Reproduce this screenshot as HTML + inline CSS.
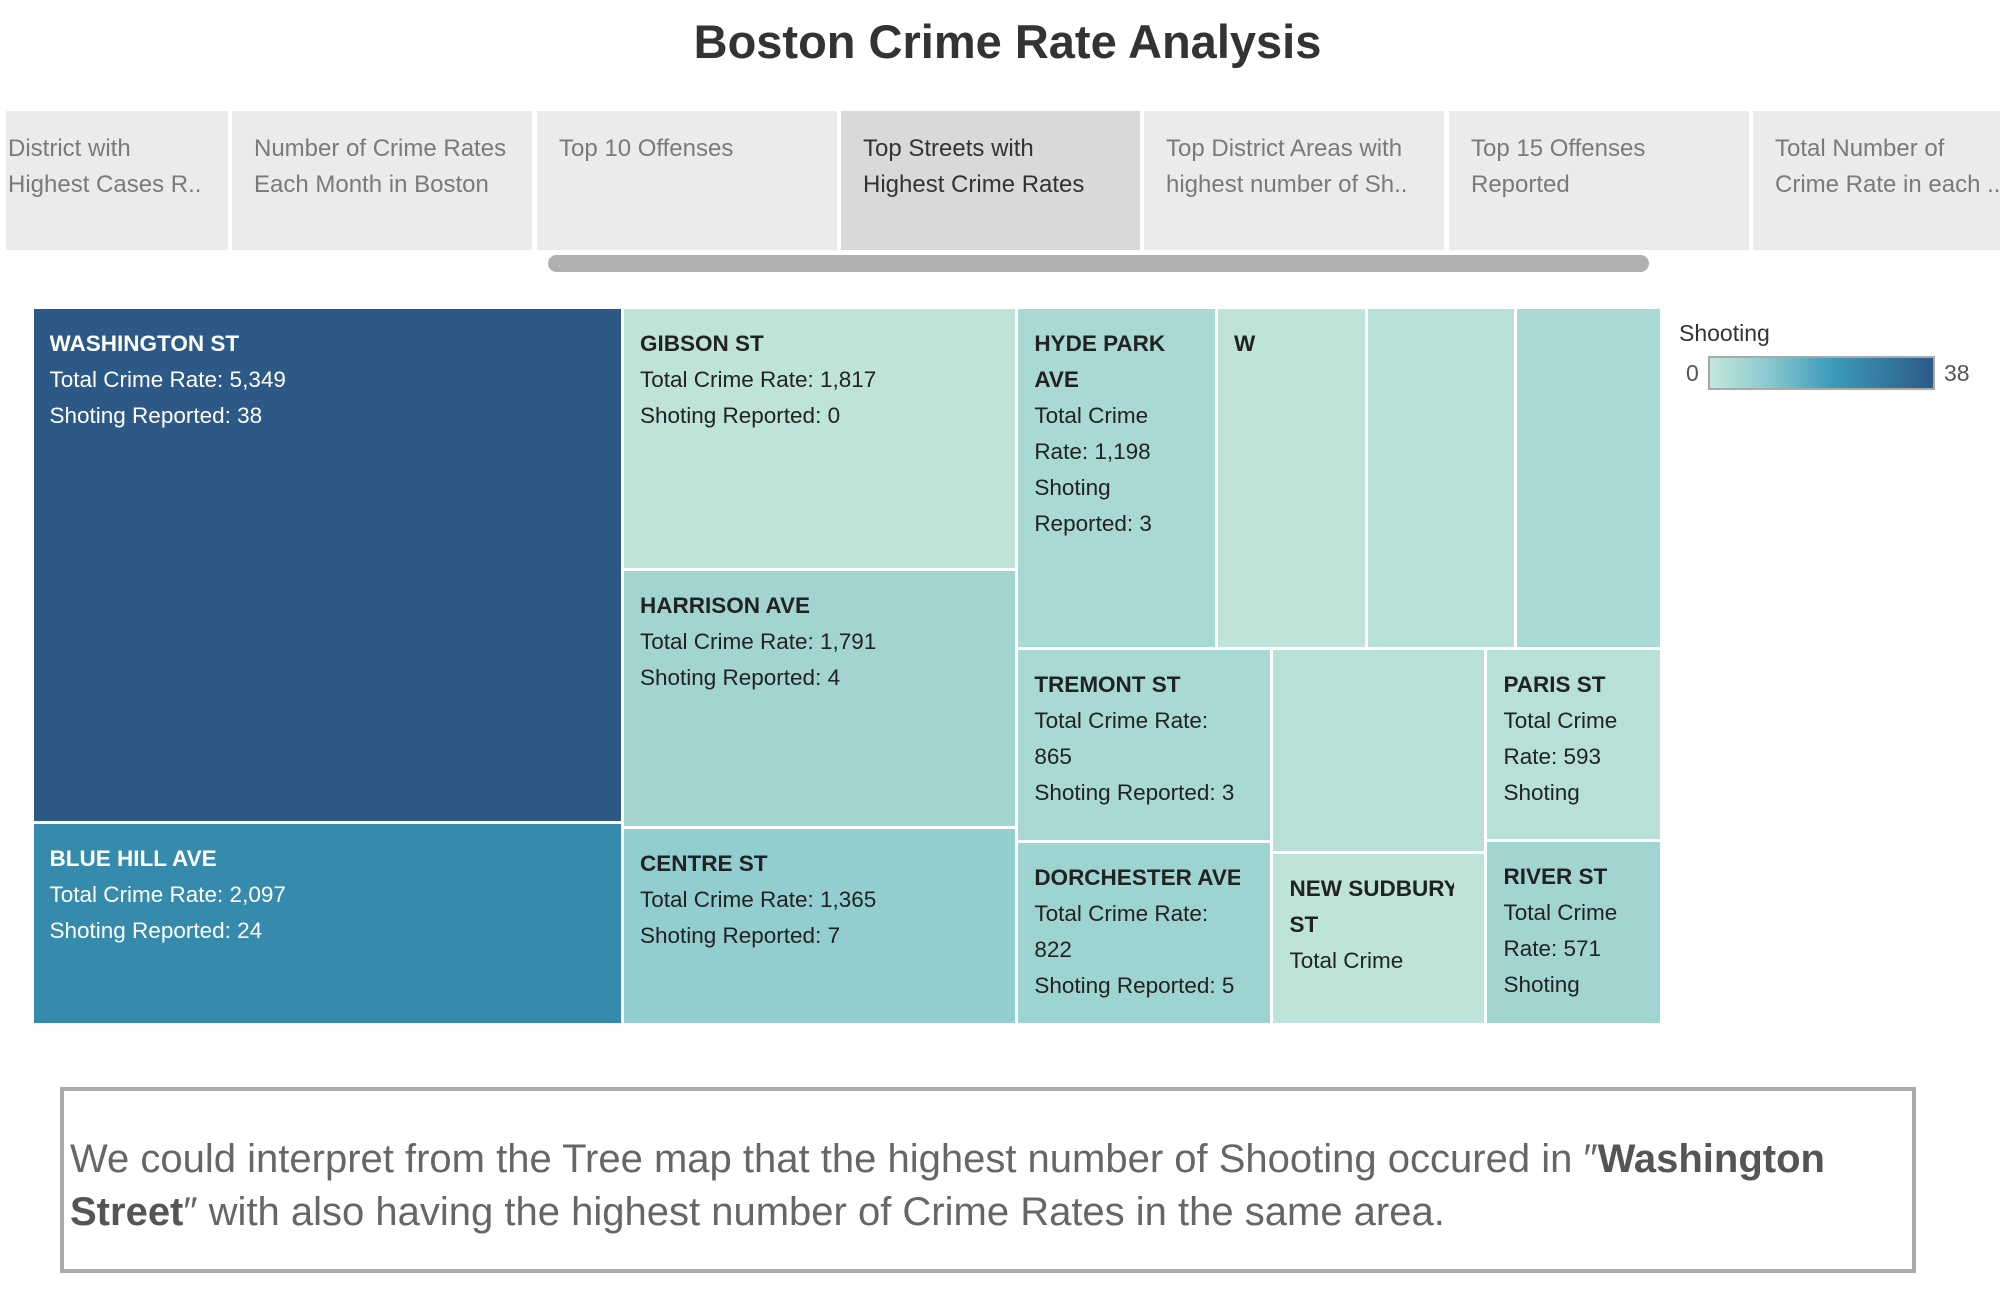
<!DOCTYPE html>
<html><head><meta charset="utf-8">
<style>
body{margin:0;width:2000px;height:1312px;background:#fff;font-family:"Liberation Sans",sans-serif;position:relative;overflow:hidden}
.abs{position:absolute}
.tab{position:absolute;top:111px;height:139px;background:#ebebeb;color:#7a7a7a;font-size:24px;line-height:36px;box-sizing:border-box;padding:20px 0 0 22px;overflow:hidden;white-space:nowrap}
.cell{position:absolute;box-sizing:border-box;overflow:hidden}
.lbl{position:absolute;left:16px;top:17px;right:30px;font-size:22.5px;line-height:36px;overflow:hidden}
.lbl b{font-weight:bold;display:block;margin-right:-22px}
</style></head><body>
<div class="abs" style="left:0;width:2015px;top:14px;text-align:center;font-size:47px;font-weight:bold;color:#333">Boston Crime Rate Analysis</div>

<div class="tab" style="left:6px;width:222px;padding-left:2px">District with<br>Highest Cases R..</div>
<div class="tab" style="left:232px;width:300px">Number of Crime Rates<br>Each Month in Boston</div>
<div class="tab" style="left:537px;width:300px">Top 10 Offenses</div>
<div class="tab" style="left:841px;width:299px;background:#d9d9d9;color:#333">Top Streets with<br>Highest Crime Rates</div>
<div class="tab" style="left:1144px;width:300px">Top District Areas with<br>highest number of Sh..</div>
<div class="tab" style="left:1449px;width:300px">Top 15 Offenses<br>Reported</div>
<div class="tab" style="left:1753px;width:260px">Total Number of<br>Crime Rate in each ..</div>
<div class="abs" style="left:548px;top:255px;width:1101px;height:17px;border-radius:9px;background:#b0b0b0"></div>

<div id="tm" class="abs" style="left:32px;top:307px;width:1630px;height:718px"></div>

<div class="abs" style="left:1679px;top:320px;font-size:23px;color:#333">Shooting</div>
<div class="abs" style="left:1686px;top:360px;font-size:23px;color:#555">0</div>
<div class="abs" style="left:1708px;top:356px;width:227px;height:34px;box-sizing:border-box;border:2px solid #a9a9a9;background:linear-gradient(to right,#c2e8dc,#8ccad0 25%,#3c9bba 55%,#2c5a87)"></div>
<div class="abs" style="left:1944px;top:360px;font-size:23px;color:#555">38</div>

<div class="abs" style="left:60px;top:1087px;width:1856px;height:186px;box-sizing:border-box;border:4px solid #ababab;padding:42px 0 0 6px;font-size:40px;line-height:53px;color:#666">We could interpret from the Tree map that the highest number of Shooting occured in ″<b style="color:#555">Washington<br>Street</b>″ with also having the highest number of Crime Rates in the same area.</div>

<script>
const streets=["WASHINGTON ST","BLUE HILL AVE","GIBSON ST","HARRISON AVE","CENTRE ST","HYDE PARK AVE","WARREN ST","BOYLSTON ST","MASSACHUSETTS AVE","TREMONT ST","DORCHESTER AVE","COMMONWEALTH AVE","NEW SUDBURY ST","PARIS ST","RIVER ST"];
const totals=[5349,2097,1817,1791,1365,1198,902,890,880,865,822,765,650,593,571];
const shootings=[38,24,0,4,7,3,0,1,3,3,5,1,0,1,4];
const labelNames=["WASHINGTON ST","BLUE HILL AVE","GIBSON ST","HARRISON AVE","CENTRE ST","HYDE PARK AVE","W","","","TREMONT ST","DORCHESTER AVE","","NEW SUDBURY ST","PARIS ST","RIVER ST"];
const nameOnly=[6];
// layout tree: h = side by side, v = stacked; leaves are street indices
const layout={d:'h',c:[{d:'v',c:[0,1]},{d:'v',c:[2,3,4]},{d:'v',c:[{d:'h',c:[5,6,7,8]},{d:'h',c:[{d:'v',c:[9,10]},{d:'v',c:[11,12]},{d:'v',c:[13,14]}]}]}]};
const maxS=38;
function sum(n){return typeof n==='number'?totals[n]:n.c.reduce((a,b)=>a+sum(b),0);}
function colorScale(s){
  const stops=[[0,[190,228,218]],[0.1,[163,214,210]],[0.2,[143,203,207]],[0.6,[55,143,176]],[1,[45,89,134]]];
  const t=s/maxS;let i=0;while(i<stops.length-2&&t>stops[i+1][0])i++;
  const [a,ca]=stops[i],[b,cb]=stops[i+1];const u=(t-a)/(b-a);
  return 'rgb('+ca.map((v,k)=>Math.round(v+(cb[k]-v)*u)).join(',')+')';
}
const tm=document.getElementById('tm');
function place(n,x,y,w,h){
  if(typeof n==='number'){draw(n,x,y,w,h);return;}
  const tot=sum(n);let off=0;
  n.c.forEach(ch=>{const f=sum(ch)/tot;
    if(n.d==='h'){place(ch,x+off,y,w*f,h);off+=w*f;}else{place(ch,x,y+off,w,h*f);off+=h*f;}});
}
function draw(i,x,y,w,h){
  const el=document.createElement('div');
  el.className='cell';
  
  
  el.style.left=(x+1.5)+'px';el.style.top=(y+1.5)+'px';
  el.style.width=(w-3)+'px';el.style.height=(h-3)+'px';
  el.style.background=colorScale(shootings[i]);
  if(labelNames[i]){
    const lb=document.createElement('div');
    lb.className='lbl';
    
    
    lb.style.color=shootings[i]>15?'#fff':'#222';
    const avail=h-3-17-10;lb.style.maxHeight=Math.max(36,Math.floor(avail/36)*36)+'px';
    if(nameOnly.includes(i)) lb.innerHTML='<b>'+labelNames[i]+'</b>';
    else lb.innerHTML='<b>'+labelNames[i]+'</b>Total Crime Rate: '+totals[i].toLocaleString('en-US')+'<br>Shoting Reported: '+shootings[i];
    el.appendChild(lb);
  }
  tm.appendChild(el);
}
place(layout,0,0,1630,718);
</script>
</body></html>
